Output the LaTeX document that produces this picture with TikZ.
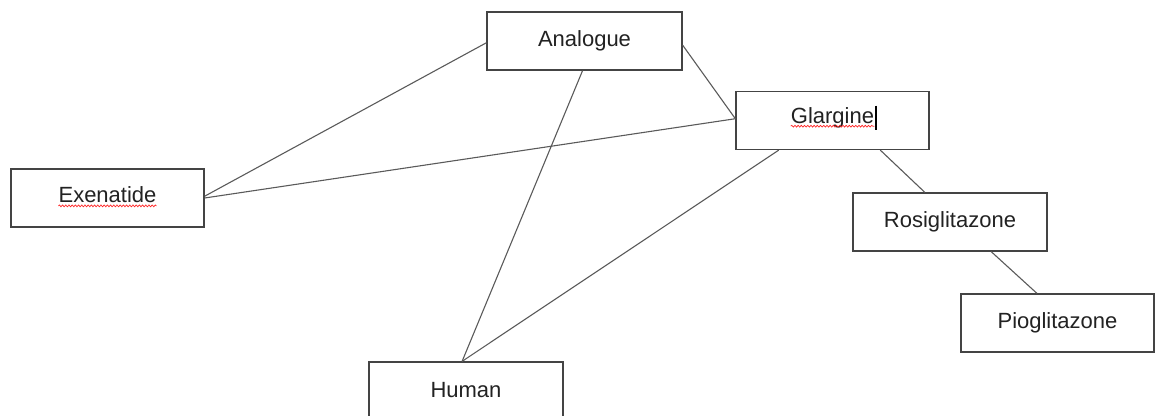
\documentclass[tikz,border=0pt]{standalone}
\usepackage{fontspec}
\setmainfont{Liberation Sans}
\usetikzlibrary{calc,decorations.pathmorphing}
\definecolor{boxline}{HTML}{444444}
\definecolor{conn}{HTML}{5A5A5A}
\definecolor{txt}{HTML}{222222}
\tikzset{
  box/.style={draw=boxline, line width=1.3pt, fill=white, minimum width=194pt, minimum height=58pt,
    inner sep=0pt, font=\fontsize{22}{24}\selectfont, text=txt},
  lbl/.style={font=\fontsize{22}{24}\selectfont, text=txt, inner sep=0pt},
  conn/.style={draw=conn, line width=1.1pt},
  spell/.style={draw=red!85!white, line width=0.7pt, decorate, decoration={snake, amplitude=0.9pt, segment length=3.2pt}}
}
\begin{document}
\begin{tikzpicture}[x=1pt,y=-1pt]
\useasboundingbox (0,0) rectangle (1155,415);
\clip (0,0) rectangle (1155,415);
\path (584.5,41) coordinate (ca) (832.5,120.5) coordinate (cg) (107.5,198) coordinate (ce)
      (950,222) coordinate (cr) (1057.5,323) coordinate (cp) (466,391) coordinate (ch);
\node[box, minimum width=195pt] (analogue) at (ca) {\raisebox{3pt}{Analogue}};
\node[box, minimum width=193pt] (glargine) at (cg) {};
\node[box, minimum width=193pt] (exenatide) at (ce) {};
\node[box] (rosi) at (cr) {\raisebox{3pt}{Rosiglitazone}};
\node[box, minimum width=193pt] (pio) at (cp) {\raisebox{3pt}{Pioglitazone}};
\node[box] (human) at (ch) {\raisebox{3pt}{Human}};
% labels with spell-check underline
\node[lbl] (gtext) at (832.5,117.5) {Glargine};
\node[lbl] (etext) at (107.5,195) {Exenatide};
\draw[spell] ($(gtext.base west)+(0,3)$) -- ($(gtext.base east)+(0,3)$);
\draw[spell] ($(etext.base west)+(0,3)$) -- ($(etext.base east)+(0,3)$);
\coordinate (cur) at ($(gtext.east)+(1.5,0)$);
\draw[black, line width=2.4pt] ($(cur)+(0,-12)$) -- ($(cur)+(0,12)$);
% connectors
\draw[conn] ($(analogue.north west)!0.53!(analogue.south west)$) -- ($(exenatide.north east)!0.47!(exenatide.south east)$);
\draw[conn] ($(glargine.north west)!0.47!(glargine.south west)$) -- ($(exenatide.north east)!0.5!(exenatide.south east)$);
\draw[conn] ($(analogue.north east)!0.57!(analogue.south east)$) -- ($(glargine.north west)!0.47!(glargine.south west)$);
\draw[conn] ($(analogue.south west)!0.49!(analogue.south east)$) -- ($(human.north west)!0.48!(human.north east)$);
\draw[conn] ($(glargine.south west)!0.223!(glargine.south east)$) -- ($(human.north west)!0.48!(human.north east)$);
\draw[conn] ($(glargine.south west)!0.746!(glargine.south east)$) -- ($(rosi.north west)!0.371!(rosi.north east)$);
\draw[conn] ($(rosi.south west)!0.711!(rosi.south east)$) -- ($(pio.north west)!0.394!(pio.north east)$);
\end{tikzpicture}
\end{document}
